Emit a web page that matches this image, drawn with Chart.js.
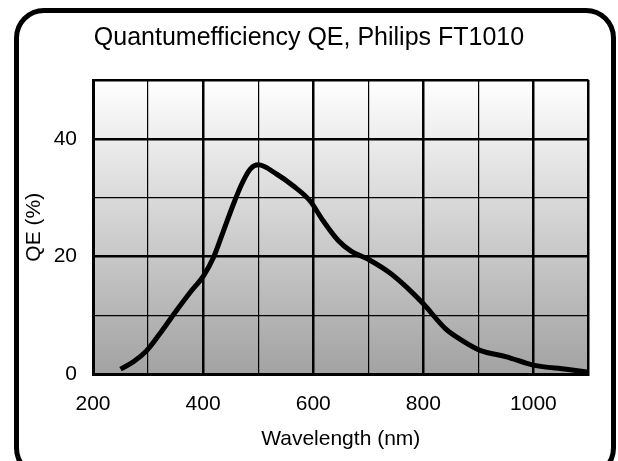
<!DOCTYPE html>
<html>
<head>
<meta charset="utf-8">
<script src="https://cdn.jsdelivr.net/npm/chart.js@4/dist/chart.umd.min.js"></script>
<style>
    html, body { margin: 0; padding: 0; background: #fff; overflow: hidden; }
    #wrap { position: relative; width: 618px; height: 461px; }
    #qeChart { position: absolute; left: 0; top: 0; }
    #frame {
        position: absolute; left: 14px; top: 8px; width: 592px; height: 460px;
        border: 5px solid #000; border-radius: 30px; pointer-events: none;
    }
</style>
</head>
<body>
<div id="wrap">
    <canvas id="qeChart" width="618" height="461"></canvas>
    <div id="frame"></div>
</div>
<script>
    // values
    var wavelengths = [250, 274, 298, 322, 352, 377, 401, 419, 437, 455, 470, 486, 500, 534, 564, 594, 618, 645, 668, 703, 740, 770, 800, 840, 870, 903, 951, 1000, 1060, 1100];
    var qeValues = [0.9, 2.2, 4.1, 7.0, 10.9, 14.0, 16.8, 19.9, 24.4, 28.9, 32.3, 34.9, 35.6, 34.0, 32.0, 29.5, 26.1, 22.8, 21.0, 19.4, 17.2, 14.8, 12.0, 7.8, 5.8, 4.1, 3.0, 1.6, 0.9, 0.4];
    var xLabelValues = [200, 400, 600, 800, 1000];
    var yLabelValues = [0, 20, 40];

    var fontFamily = "'Liberation Sans', Arial, sans-serif";

    var points = wavelengths.map(function (w, i) {
        return { x: w, y: qeValues[i] };
    });

    // grey gradient behind the plot area
    var plotBackground = {
        id: 'plotBackground',
        beforeDraw: function (chart) {
            var area = chart.chartArea;
            var ctx = chart.ctx;
            var grad = ctx.createLinearGradient(0, area.top, 0, area.bottom);
            grad.addColorStop(0, '#ffffff');
            grad.addColorStop(1, '#a2a2a2');
            ctx.save();
            ctx.fillStyle = grad;
            ctx.fillRect(area.left, area.top, area.right - area.left, area.bottom - area.top);
            ctx.restore();
        }
    };

    function gridWidth(ctx, majors, edge) {
        var v = ctx.tick ? ctx.tick.value : 0;
        if (majors.indexOf(v) >= 0 || v === edge) {
            return 2.5;
        }
        return 1.2;
    }

    new Chart(document.getElementById('qeChart'), {
        type: 'line',
        data: {
            datasets: [{
                label: 'QE',
                data: points,
                borderColor: '#000',
                borderWidth: 5,
                pointRadius: 0,
                fill: false,
                cubicInterpolationMode: 'monotone'
            }]
        },
        options: {
            responsive: false,
            animation: false,
            layout: { padding: 0 },
            plugins: {
                legend: { display: false },
                tooltip: { enabled: false },
                title: {
                    display: true,
                    text: 'Quantumefficiency QE, Philips FT1010',
                    color: '#000',
                    font: { family: fontFamily, size: 25, weight: 'normal' },
                    padding: { top: 23, bottom: 27 }
                }
            },
            scales: {
                x: {
                    type: 'linear',
                    min: 200,
                    max: 1100,
                    afterFit: function (scale) { scale.height = 86.5; },
                    ticks: {
                        stepSize: 100,
                        autoSkip: false,
                        maxRotation: 0,
                        padding: 17,
                        color: '#000',
                        font: { family: fontFamily, size: 21 },
                        callback: function (v) {
                            return xLabelValues.indexOf(v) >= 0 ? String(v) : '';
                        }
                    },
                    grid: {
                        color: '#000',
                        drawTicks: false,
                        lineWidth: function (ctx) { return gridWidth(ctx, xLabelValues, 1100); }
                    },
                    border: { color: '#000', width: 3 },
                    title: {
                        display: true,
                        text: 'Wavelength (nm)',
                        color: '#000',
                        font: { family: fontFamily, size: 21 },
                        padding: { top: 4, bottom: 9 }
                    }
                },
                y: {
                    type: 'linear',
                    min: 0,
                    max: 50,
                    afterFit: function (scale) { scale.width = 93; },
                    ticks: {
                        stepSize: 10,
                        padding: 16,
                        color: '#000',
                        font: { family: fontFamily, size: 21 },
                        callback: function (v) {
                            return yLabelValues.indexOf(v) >= 0 ? String(v) : '';
                        }
                    },
                    grid: {
                        color: '#000',
                        drawTicks: false,
                        lineWidth: function (ctx) { return gridWidth(ctx, yLabelValues, 50); }
                    },
                    border: { color: '#000', width: 3 },
                    title: {
                        display: true,
                        text: 'QE (%)',
                        color: '#000',
                        font: { family: fontFamily, size: 21 },
                        padding: { top: 22, bottom: 4 }
                    }
                },
                // empty axis that only keeps room on the right
                yRight: {
                    type: 'linear',
                    position: 'right',
                    min: 0,
                    max: 50,
                    afterFit: function (scale) { scale.width = 29.5; },
                    ticks: { display: false },
                    grid: { display: false, drawTicks: false },
                    border: { display: false }
                }
            }
        },
        plugins: [plotBackground]
    });
</script>
</body>
</html>
